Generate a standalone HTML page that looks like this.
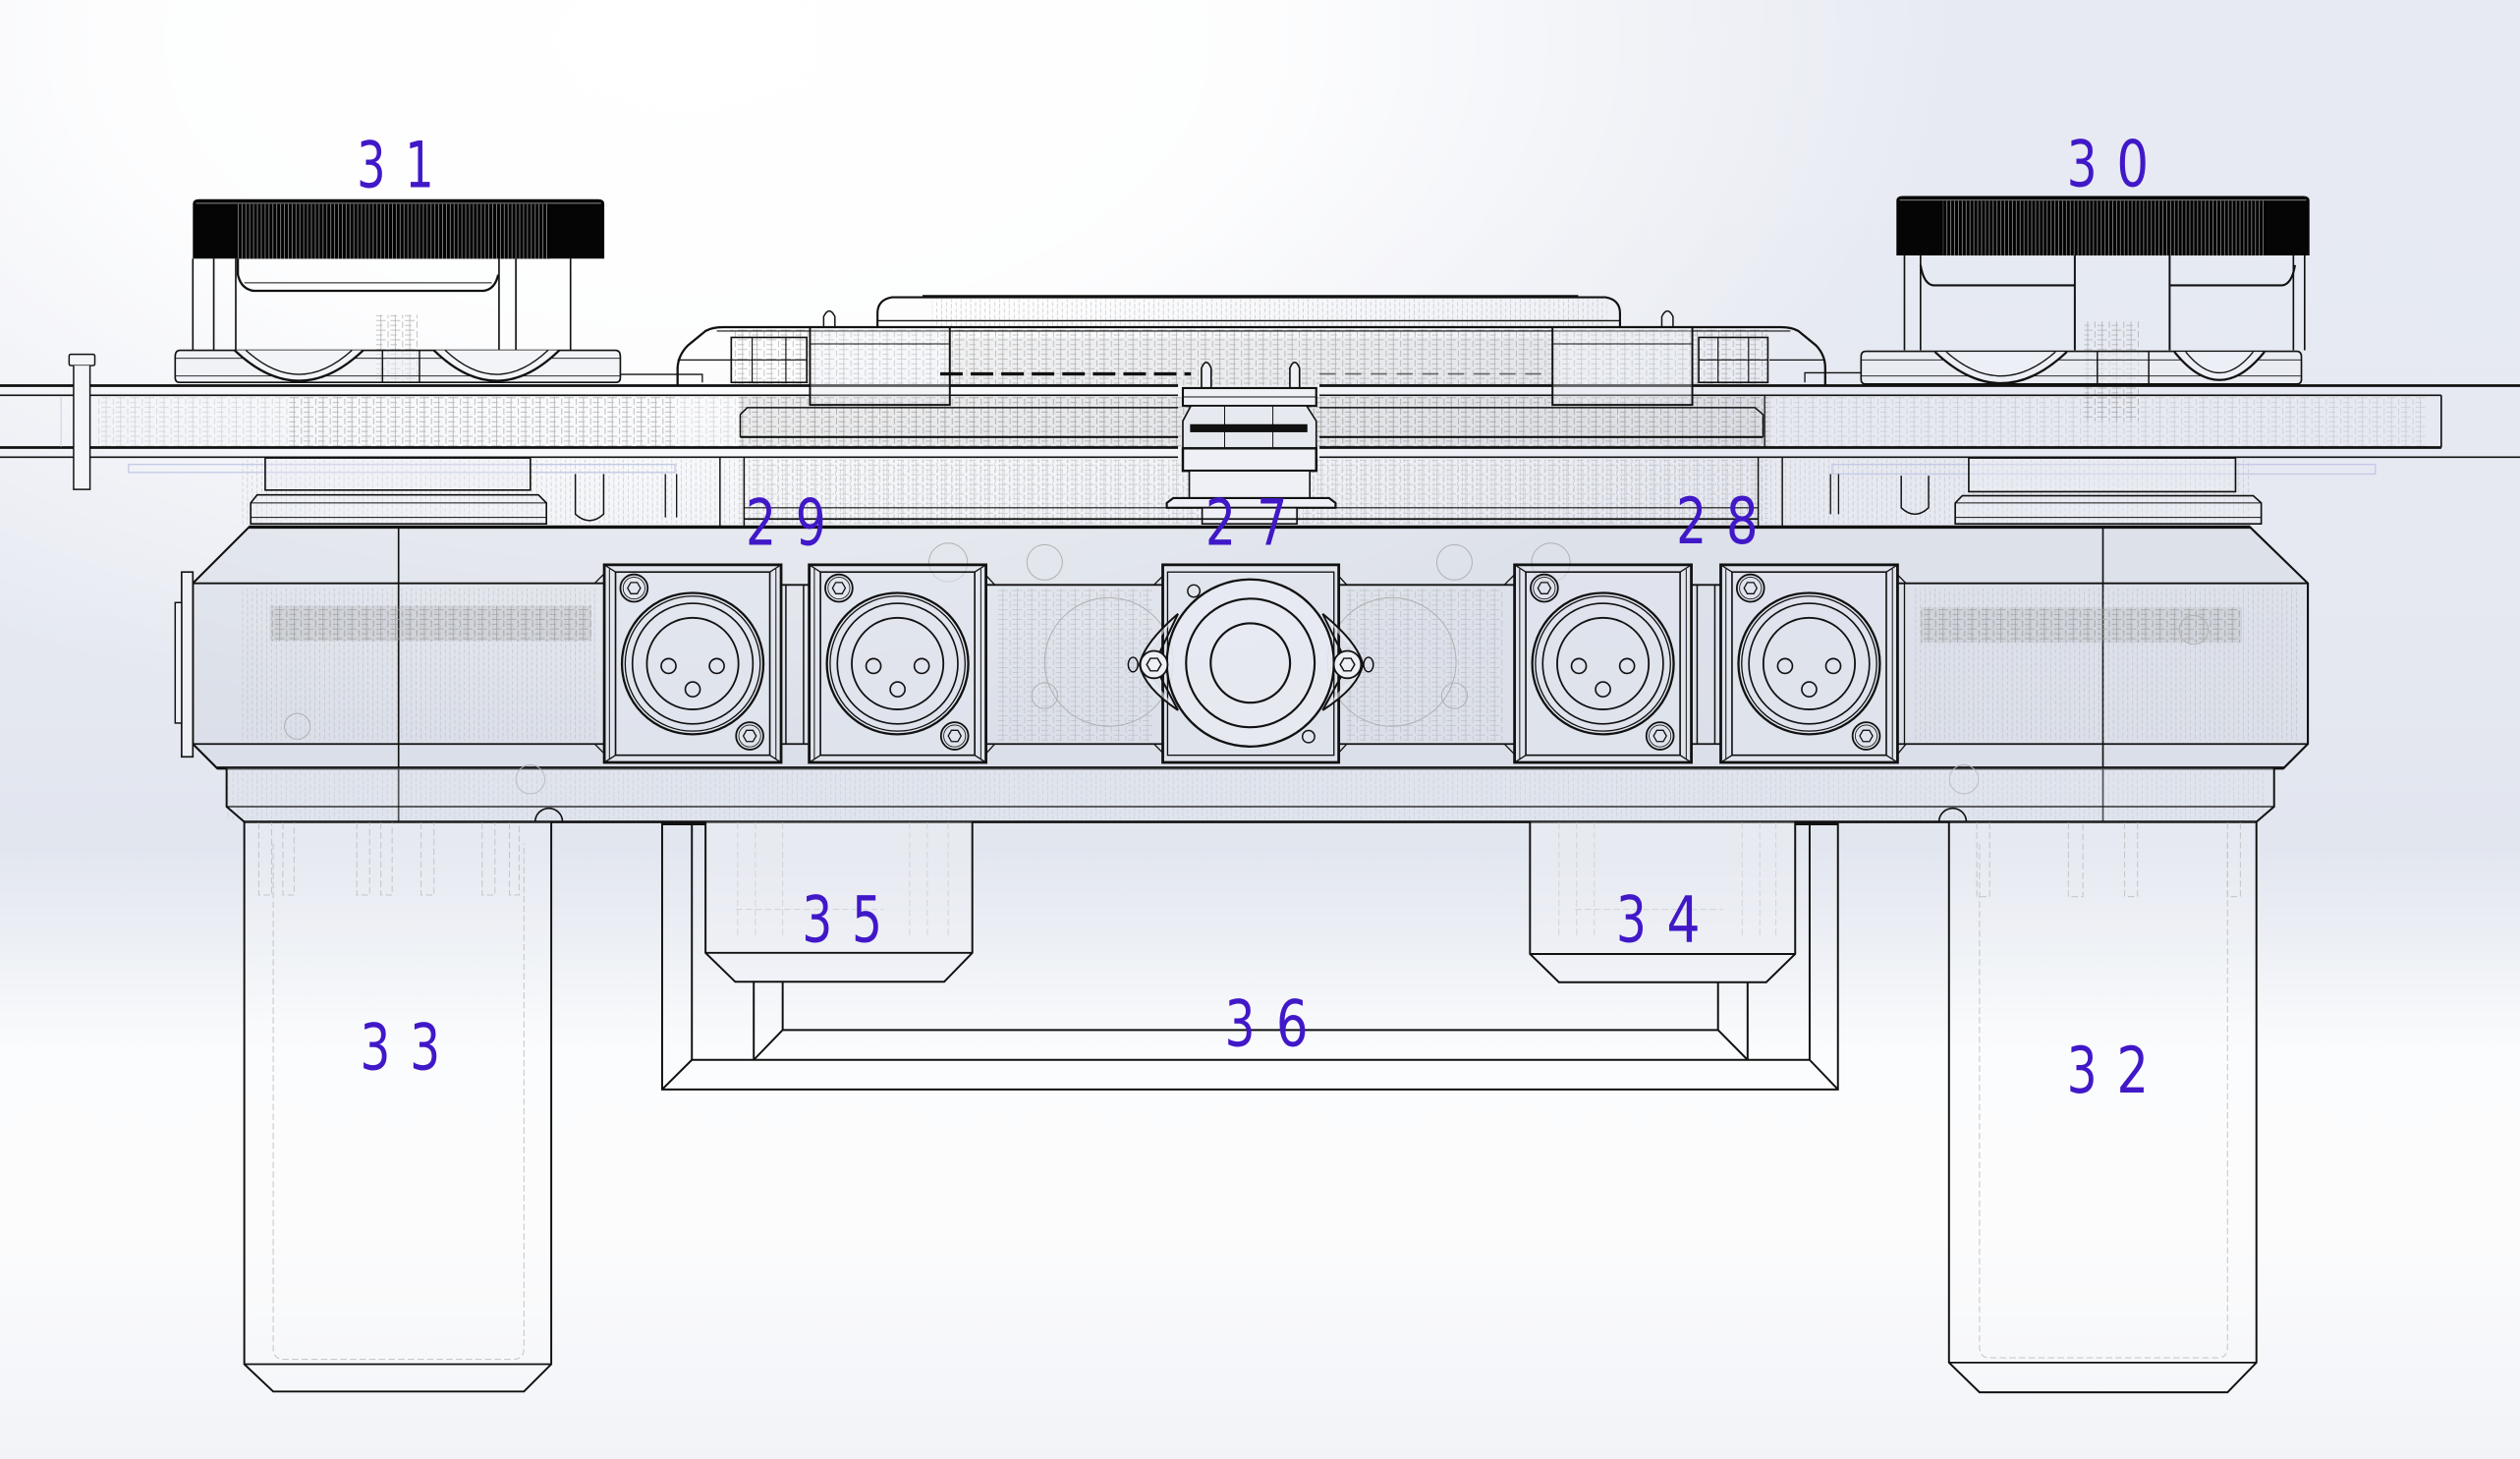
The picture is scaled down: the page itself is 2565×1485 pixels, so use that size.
<!DOCTYPE html>
<html><head><meta charset="utf-8">
<style>
html,body{margin:0;padding:0;}
body{width:2565px;height:1485px;overflow:hidden;position:relative;
background:
radial-gradient(ellipse 1300px 720px at 700px 40px, rgba(255,255,255,1) 0%, rgba(255,255,255,0.92) 45%, rgba(255,255,255,0) 100%),
linear-gradient(to bottom, #e7eaf2 0%, #e6e9f1 40%, #e2e6ef 58%, #edf0f5 65%, #fbfcfd 72%, #fcfcfd 84%, #f1f3f7 100%);}
svg{position:absolute;left:0;top:0;}
.lb{font-family:"DejaVu Sans","Liberation Sans",sans-serif;font-size:40px;fill:#4018c8;}
</style></head><body>
<svg width="2565" height="1485" viewBox="0 0 1568 908" preserveAspectRatio="none">
<defs>
<pattern id="knurl" width="2.4" height="40" patternUnits="userSpaceOnUse"><rect width="2.4" height="40" fill="#000"/><rect x="1.6" width="0.38" height="40" fill="#bdbdbd"/></pattern>
<pattern id="clut" width="9" height="6" patternUnits="userSpaceOnUse"><path d="M0,1.5H6M3,0V6M0,4.5H4M7.5,2V6" stroke="#a6a6a6" stroke-width="0.45" fill="none"/></pattern>
<pattern id="vd" width="6" height="4" patternUnits="userSpaceOnUse"><path d="M1,0V2.5M4,1V4" stroke="#b4b4b4" stroke-width="0.4"/></pattern>
<g id="xlr" fill="none" stroke="#111">
 <rect x="0" y="351.5" width="110" height="123" stroke-width="1.7" fill="rgba(225,229,238,0.55)"/>
 <rect x="7" y="356" width="96" height="114" stroke-width="1"/>
 <path d="M0,351.5 L7,356 M110,351.5 L103,356 M0,474.5 L7,470 M110,474.5 L103,470" stroke-width="0.8"/>
 <path d="M3.2,354 V472 M106.8,354 V472" stroke-width="0.6"/>
 <circle cx="55" cy="413" r="44" stroke-width="1.4"/>
 <circle cx="55" cy="413" r="42" stroke-width="0.8"/>
 <circle cx="55" cy="413" r="37.5" stroke-width="1"/>
 <circle cx="55" cy="413" r="28.5" stroke-width="1.1"/>
 <circle cx="40" cy="414.5" r="4.6" stroke-width="1"/>
 <circle cx="70" cy="414.5" r="4.6" stroke-width="1"/>
 <circle cx="55" cy="429" r="4.6" stroke-width="1"/>
 <circle cx="18.5" cy="366" r="8.5" stroke-width="1.1"/>
 <circle cx="18.5" cy="366" r="6.8" stroke-width="0.5"/>
 <polygon points="22.5,366 20.5,369.5 16.5,369.5 14.5,366 16.5,362.5 20.5,362.5" stroke-width="0.8"/>
 <circle cx="90.5" cy="458" r="8.5" stroke-width="1.1"/>
 <circle cx="90.5" cy="458" r="6.8" stroke-width="0.5"/>
 <polygon points="94.5,458 92.5,461.5 88.5,461.5 86.5,458 88.5,454.5 92.5,454.5" stroke-width="0.8"/>
</g>
</defs>

<!-- ===== gray clutter (hidden detail) ===== -->
<g>
 <rect x="60" y="247" width="1450" height="31" fill="url(#clut)" opacity="0.45"/>
 <rect x="180" y="247" width="240" height="31" fill="url(#clut)" opacity="0.7"/>
 <rect x="460" y="247" width="640" height="31" fill="url(#clut)" opacity="0.9"/>
 <rect x="460" y="247" width="640" height="31" fill="#9a9a9a" opacity="0.16"/>
 <rect x="455" y="205" width="645" height="35" fill="url(#clut)" opacity="0.85"/>
 <rect x="590" y="210" width="380" height="30" fill="#9a9a9a" opacity="0.12"/>
 <rect x="580" y="186" width="420" height="18" fill="url(#vd)" opacity="0.8"/>
 <rect x="150" y="286" width="1250" height="40" fill="url(#vd)" opacity="0.7"/>
 <rect x="460" y="286" width="640" height="40" fill="url(#clut)" opacity="0.55"/>
 <rect x="140" y="480" width="1270" height="30" fill="url(#vd)" opacity="0.6"/>
 <rect x="233" y="196" width="28" height="42" fill="url(#clut)" opacity="0.9"/>
 <rect x="1297" y="200" width="34" height="62" fill="url(#clut)" opacity="0.9"/>
</g>

<!-- ===== plate ===== -->
<g fill="none" stroke="#111">
 <path d="M0,240 H733 M821,240 H1568" stroke-width="1.7"/>
 <path d="M0,246 H733 M821,246 H1519" stroke-width="1"/>
 <path d="M0,278.5 H733 M821,278.5 H1519" stroke-width="1.7"/>
 <path d="M0,284.5 H733 M821,284.5 H1568" stroke-width="1"/>
 <path d="M1519,246 V278.5" stroke-width="1"/>
 <path d="M1098,246 V278.5" stroke-width="0.8"/>
 <rect x="80" y="289" width="340" height="5" stroke="#c3c9e6" stroke-width="0.8"/>
 <rect x="1140" y="289" width="338" height="6" stroke="#c3c9e6" stroke-width="0.8"/>
 <path d="M38,247 V278" stroke="#c8cde0" stroke-width="0.6"/>
</g>

<!-- pin left -->
<g fill="#f4f5f8" stroke="#111" stroke-width="0.9">
 <rect x="43" y="220.5" width="16" height="7" rx="1"/>
 <path d="M45.8,227.5 V304.6 H56 V227.5" />
</g>

<!-- ===== left knob 31 ===== -->
<g fill="none" stroke="#111" stroke-width="1">
 <path d="M120,161 V218 M133,161 V218 M146.7,161 V218" />
 <path d="M310.5,161 V218 M321,161 V218 M355,161 V218" />
 <path d="M148,161 V171 Q150,180 158,181 H301 Q308,180 310,171" stroke-width="1.4"/>
 <path d="M152,176 H306" stroke-width="0.6"/>
 <path d="M112,218 H383 Q386,218 386,222 V235 Q386,238 383,238 H112 Q109,238 109,235 V222 Q109,218 112,218 Z" fill="rgba(235,238,244,0.6)"/>
 <path d="M109,223 H386 M109,234 H386" stroke-width="0.5"/>
 <path d="M146,218 Q186,256 226,218" stroke-width="1.4" fill="#f2f4f8"/>
 <path d="M153,218 Q186,248 219,218" stroke-width="0.8"/>
 <path d="M270,218 Q309,256 348,218" stroke-width="1.4" fill="#f2f4f8"/>
 <path d="M277,218 Q309,248 341,218" stroke-width="0.8"/>
 <path d="M238,218 V238 M261,218 V238" stroke-width="0.9"/>
 <path d="M386,233 H437 V238" stroke-width="0.8"/>
</g>
<path d="M120,127 Q120,124 124,124 L372,124 Q376,124 376,127 L376,161 L120,161 Z" fill="#050505"/>
<rect x="147" y="127" width="195" height="34" fill="url(#knurl)"/>
<path d="M122,126.5 H374" stroke="#888" stroke-width="0.6"/>

<!-- ===== right knob 30 ===== -->
<g fill="none" stroke="#111" stroke-width="1">
 <path d="M1185,159 V218 M1195,159 V218" />
 <path d="M1291,159 V218 M1350,159 V218" stroke-width="1.2"/>
 <path d="M1427,159 V218 M1434,159 V218" />
 <path d="M1195,165 Q1197,177 1203,177.6 H1291 M1350,177.6 H1420 Q1426,177 1428,165" stroke-width="1.3"/>
 <path d="M1161,218.6 H1429 Q1432,218.6 1432,222 V236 Q1432,239 1429,239 H1161 Q1158,239 1158,236 V222 Q1158,218.6 1161,218.6 Z" fill="rgba(235,238,244,0.6)"/>
 <path d="M1158,224 H1432 M1158,234 H1432" stroke-width="0.5"/>
 <path d="M1204,219 Q1245,258 1286,219" stroke-width="1.4" fill="#eceff5"/>
 <path d="M1211,219 Q1245,249 1279,219" stroke-width="0.8"/>
 <path d="M1353,219 Q1381,254 1409,219" stroke-width="1.4" fill="#eceff5"/>
 <path d="M1360,219 Q1381,245 1402,219" stroke-width="0.8"/>
 <path d="M1305,219 V239 M1337,219 V239" stroke-width="0.9"/>
 <path d="M1123,238 V232 H1158" stroke-width="0.8"/>
</g>
<path d="M1180,125 Q1180,122 1184,122 L1433,122 Q1437,122 1437,125 L1437,159 L1180,159 Z" fill="#050505"/>
<rect x="1209" y="125" width="201" height="34" fill="url(#knurl)"/>
<path d="M1182,124.5 H1435" stroke="#888" stroke-width="0.6"/>

<!-- ===== central housing ===== -->
<g fill="none" stroke="#111" stroke-width="1.2">
 <path d="M421.6,240 V229 Q422,221 428,215 L439,206 Q443,203.6 450,203.6 H1108 Q1115,203.6 1119,206 L1130,215 Q1135.7,221 1135.7,229 V240" stroke-width="1.4"/>
 <path d="M421.6,224 H455 M1101,224 H1135.7" stroke-width="0.8"/>
 <path d="M446,206 H1114" stroke-width="0.7"/>
 <path d="M546,203.6 V195 Q546,186.5 555,185 H999 Q1008,186.5 1008,195 V203.6" stroke-width="1.3"/>
 <path d="M574,184.5 H982" stroke-width="1.9"/>
 <path d="M546,199.6 H1008" stroke-width="0.9"/>
 <rect x="504" y="203.6" width="87" height="48.4" fill="rgba(235,238,244,0.35)"/>
 <rect x="966" y="203.6" width="87" height="48.4" fill="rgba(235,238,244,0.35)"/>
 <path d="M504,214 H591 M966,214 H1053" stroke-width="0.6"/>
 <path d="M512.5,203.6 V197 Q516,190 519.5,197 V203.6 M1034,203.6 V197 Q1037.5,190 1041,197 V203.6" stroke-width="0.9"/>
 <rect x="455" y="210" width="47" height="28" stroke-width="1"/>
 <path d="M468,210 V238 M489,210 V238 M455,224 H502" stroke-width="0.7"/>
 <rect x="1057" y="210" width="43" height="28" stroke-width="1"/>
 <path d="M1069,210 V238 M1088,210 V238 M1057,224 H1100" stroke-width="0.7"/>
 <path d="M585,232.7 H741" stroke-width="2" stroke-dasharray="14,5"/>
 <path d="M821,232.7 H966" stroke-width="1" stroke="#666" stroke-dasharray="10,6"/>
 <path d="M460.6,272 V258 L465,253.7 H733 M821,253.7 H1092 L1097,258 V272" stroke-width="0.9"/>
 <path d="M460.6,272 H733 M821,272 H1097" stroke-width="1.3"/>
</g>

<!-- center connector stack -->
<g fill="#eef0f5" stroke="#111" stroke-width="1">
 <path d="M747.6,241.5 V229 Q750.6,222 753.6,229 V241.5 Z"/>
 <path d="M802.6,241.5 V229 Q805.6,222 808.6,229 V241.5 Z"/>
 <rect x="736" y="241.5" width="83" height="11.1" stroke-width="1.3"/>
 <path d="M736,247 H819" stroke-width="0.6" fill="none"/>
 <path d="M741,252.6 L736,262 V279 H819 V262 L813,252.6 Z" fill="#e6e9ef"/>
 <rect x="741" y="264.5" width="72" height="4" fill="#111"/>
 <rect x="736" y="279" width="83" height="14" stroke-width="1.5"/>
 <rect x="740" y="293" width="75" height="17"/>
 <path d="M726,316 V313 L730,310 H827 L831,313 V316 Z" stroke-width="1.3"/>
 <rect x="748" y="316" width="59" height="10"/>
 <path d="M762,253 V279 M792,253 V279" stroke-width="0.6" fill="none"/>
</g>

<!-- under-plate structures -->
<g fill="none" stroke="#111" stroke-width="1">
 <rect x="165" y="285" width="165" height="20" fill="rgba(235,238,244,0.4)"/>
 <path d="M160,308 H335 L340,313 V326 H156 V313 Z" fill="rgba(235,238,244,0.4)"/>
 <path d="M156,313 H340 M156,322 H340" stroke-width="0.6"/>
 <rect x="1225" y="285" width="166" height="21" fill="rgba(235,238,244,0.4)"/>
 <path d="M1221,308.5 H1402 L1407,313 V326 H1216.6 V313 Z" fill="rgba(235,238,244,0.4)"/>
 <path d="M1216.6,313 H1407 M1216.6,322 H1407" stroke-width="0.6"/>
 <path d="M448,284.5 V328 M463,284.5 V328 M1094,284.5 V328 M1109,284.5 V328" stroke-width="0.9"/>
 <path d="M358,295 V320 Q366.8,328 375.6,320 V295" stroke-width="0.9"/>
 <path d="M414,295 V322 M421,295 V322" stroke-width="0.8"/>
 <path d="M1183,296 V316 Q1191.5,324 1200,316 V296" stroke-width="0.9"/>
 <path d="M1139,295 V320 M1144,295 V320" stroke-width="0.8"/>
 <path d="M463,316 H1094" stroke-width="0.7"/>
 <path d="M463,323 H1094" stroke-width="1"/>
</g>

<!-- ===== main body ===== -->
<g fill="none" stroke="#111">
 <path d="M155,328 H1400 L1436,363 V463 L1421,478 H135 L120,463 V363 Z" fill="rgba(196,203,216,0.28)" stroke-width="1.3"/>
 <path d="M155,328 H1400" stroke-width="2"/>
 <path d="M135,478 H1421" stroke-width="2"/>
 <rect x="113" y="356" width="7" height="115" fill="#eef0f5" stroke-width="1"/>
 <rect x="109" y="375" width="4" height="75" fill="#eef0f5" stroke-width="0.9"/>
 <path d="M120,363 H376 M485.5,364 H504 M613.5,364 H724 M832.5,364 H942 M1052.5,364 H1071 M1181,363 H1436" stroke-width="1.1"/>
 <path d="M120,463 H376 M485.5,463 H504 M613.5,463 H724 M832.5,463 H942 M1052.5,463 H1071 M1181,463 H1436" stroke-width="1.1"/>
 <path d="M248,328 V512 M1308.5,328 V512" stroke-width="1"/>
 <path d="M489,364 V463 M500,364 V463 M1056,364 V463 M1067,364 V463" stroke-width="0.9"/>
 <path d="M1185,363 V463" stroke-width="0.8"/>
 <path d="M370,363 L376,357 M370,463 L376,469 M613.5,358 L619,364 M613.5,469 L619,463 M718,364 L724,358 M718,463 L724,469 M832.5,358 L838,364 M832.5,469 L838,463 M936,364 L942,358 M936,463 L942,469 M1181,358 L1186,363 M1181,469 L1186,463" stroke-width="0.8"/>
</g>
<!-- body clutter -->
<g>
 <rect x="150" y="366" width="222" height="95" fill="url(#vd)" opacity="0.7"/>
 <rect x="168" y="377" width="200" height="22" fill="url(#clut)" opacity="1"/>
 <rect x="168" y="377" width="200" height="22" fill="#8d8d8d" opacity="0.18"/>
 <rect x="1190" y="366" width="240" height="95" fill="url(#vd)" opacity="0.7"/>
 <rect x="1195" y="378" width="200" height="22" fill="url(#clut)" opacity="1"/>
 <rect x="1195" y="378" width="200" height="22" fill="#8d8d8d" opacity="0.15"/>
 <rect x="620" y="366" width="98" height="95" fill="url(#clut)" opacity="0.55"/>
 <rect x="838" y="366" width="98" height="95" fill="url(#clut)" opacity="0.55"/>
 <g fill="none" stroke="#b0b0b0" stroke-width="0.6">
  <circle cx="690" cy="412" r="40"/><circle cx="866" cy="412" r="40"/>
  <circle cx="650" cy="350" r="11"/><circle cx="905" cy="350" r="11"/>
  <circle cx="650" cy="433" r="8"/><circle cx="905" cy="433" r="8"/>
  <circle cx="590" cy="350" r="12"/><circle cx="965" cy="350" r="12"/>
  <circle cx="185" cy="452" r="8"/><circle cx="1365" cy="392" r="9"/>
  <circle cx="330" cy="485" r="9"/><circle cx="1222" cy="485" r="9"/>
 </g>
</g>

<!-- XLR connectors -->
<use href="#xlr" x="376"/>
<use href="#xlr" x="503.5"/>
<use href="#xlr" x="942.4"/>
<use href="#xlr" x="1070.7"/>

<!-- center connector 27 -->
<g fill="none" stroke="#111">
 <rect x="723.5" y="351.5" width="109.5" height="123" stroke-width="1.7" fill="rgba(225,229,238,0.55)"/>
 <rect x="726.5" y="356" width="103.5" height="114" stroke-width="0.8"/>
 <path d="M718,413.6 L733,382 M718,413.6 L733,442 M838.5,413.6 L823,382 M838.5,413.6 L823,442" stroke-width="1.2"/>
 <path d="M709,413.6 Q712,400 733,382 M709,413.6 Q712,428 733,442 M848,413.6 Q845,400 823,382 M848,413.6 Q845,428 823,442" stroke-width="1.2" fill="rgba(235,238,244,0.6)"/>
 <circle cx="778" cy="412.6" r="52" stroke-width="1.4" fill="rgba(236,239,245,0.55)"/>
 <circle cx="778" cy="412.6" r="40" stroke-width="1.3"/>
 <circle cx="778" cy="412.6" r="24.7" stroke-width="1.3"/>
 <circle cx="718" cy="413.6" r="8.5" stroke-width="1.1" fill="#eef0f5"/>
 <polygon points="722.5,413.6 720.2,417.5 715.8,417.5 713.5,413.6 715.8,409.7 720.2,409.7" stroke-width="0.9"/>
 <circle cx="838.4" cy="413.6" r="8.5" stroke-width="1.1" fill="#eef0f5"/>
 <polygon points="842.9,413.6 840.6,417.5 836.2,417.5 833.9,413.6 836.2,409.7 840.6,409.7" stroke-width="0.9"/>
 <ellipse cx="705" cy="413.6" rx="3" ry="4.5" stroke-width="0.9"/>
 <ellipse cx="851.5" cy="413.6" rx="3" ry="4.5" stroke-width="0.9"/>
 <circle cx="742.8" cy="367.8" r="3.8" stroke-width="0.9"/>
 <circle cx="814.2" cy="458.4" r="3.8" stroke-width="0.9"/>
</g>

<!-- ===== lower bar ===== -->
<g fill="none" stroke="#111">
 <path d="M141,478 V502 L152,511.5 H1404 L1415,502 V478" stroke-width="1.2" fill="rgba(215,221,232,0.3)"/>
 <path d="M141,502 H1415" stroke-width="0.8"/>
 <path d="M152,511.5 H1404" stroke-width="1.6"/>
 <path d="M333,511.5 A8.5,8.5 0 0 1 350,511.5" stroke-width="1"/>
 <path d="M1206.5,511.5 A8.5,8.5 0 0 1 1223.5,511.5" stroke-width="1"/>
</g>

<!-- ===== legs ===== -->
<g fill="none" stroke="#111" stroke-width="1.2">
 <path d="M152,511.5 V849 L170,866 H326 L343,849 V511.5" fill="rgba(255,255,255,0.15)"/>
 <path d="M152,849 H343" stroke-width="1.1"/>
 <path d="M1212.7,511.5 V848 L1231.7,866.5 H1386 L1404,848 V511.5" fill="rgba(255,255,255,0.15)"/>
 <path d="M1212.7,848 H1404" stroke-width="1.1"/>
</g>
<g fill="none" stroke="#c4c4c4" stroke-width="0.6" stroke-dasharray="4,2">
 <path d="M170,525 V839 Q170,846 177,846 H319 Q326,846 326,839 V525"/>
 <path d="M1231.7,525 V838 Q1231.7,845 1238,845 H1380 Q1386,845 1386,838 V525"/>
 <path d="M161,512 V557 H169 V512 M176,512 V557 H183 V512 M222,512 V557 H230 V512 M237,512 V557 H244 V512 M262,512 V557 H270 V512 M300,512 V557 H308 V512 M317,512 V557 H323 V512"/>
 <path d="M1230,512 V558 H1238 V512 M1287,512 V558 H1296 V512 M1322,512 V558 H1330 V512 M1386,512 V558 H1394 V512"/>
 <path d="M459,512 V584 M470,512 V584 M487,512 V584 M566,512 V584 M577,512 V584 M590,512 V584"/>
 <path d="M970,512 V584 M981,512 V584 M992,512 V584 M1084,512 V584 M1095,512 V584 M1105,512 V584"/>
 <path d="M458,566 H550 M980,566 H1072"/>
</g>

<!-- inner legs 35 / 34 -->
<g fill="none" stroke="#111" stroke-width="1.2">
 <path d="M439,511.5 V593 L457.5,611 H587.5 L605,593 V511.5" fill="rgba(240,242,247,0.35)"/>
 <path d="M439,593 H605"/>
 <path d="M952,511.5 V593.7 L970,611.3 H1099 L1117,593.7 V511.5" fill="rgba(240,242,247,0.35)"/>
 <path d="M952,593.7 H1117"/>
</g>

<!-- ===== frame 36 ===== -->
<g fill="none" stroke="#111" stroke-width="1.2">
 <path d="M412,511.5 V678 H1143.6 V511.5"/>
 <path d="M430.5,511.5 V659.6 H1126 V511.5"/>
 <path d="M412,678 L430.5,659.6 M1143.6,678 L1126,659.6"/>
 <path d="M469,611 V659.6 M487,611 V641 H1069 V611.3 M1087.4,611.3 V659.6"/>
 <path d="M469,659.6 L487,641 M1087.4,659.6 L1069,641"/>
 <path d="M412,512.5 H439 M1117,512.5 H1143.6" stroke-width="2.2"/>
</g>

<!-- ===== labels ===== -->
<g class="lb">
 <text x="222" y="116.5" class="lb" textLength="18" lengthAdjust="spacingAndGlyphs">3</text><text x="252" y="116.5" class="lb" textLength="18" lengthAdjust="spacingAndGlyphs">1</text>
 <text x="1286" y="116" class="lb" textLength="19" lengthAdjust="spacingAndGlyphs">3</text><text x="1317" y="116" class="lb" textLength="20" lengthAdjust="spacingAndGlyphs">0</text>
 <text x="464" y="339" class="lb" textLength="19" lengthAdjust="spacingAndGlyphs">2</text><text x="495" y="339" class="lb" textLength="19" lengthAdjust="spacingAndGlyphs">9</text>
 <text x="750" y="339" class="lb" textLength="19" lengthAdjust="spacingAndGlyphs">2</text><text x="782" y="339" class="lb" textLength="19" lengthAdjust="spacingAndGlyphs">7</text>
 <text x="1043" y="338" class="lb" textLength="19" lengthAdjust="spacingAndGlyphs">2</text><text x="1074" y="338" class="lb" textLength="20" lengthAdjust="spacingAndGlyphs">8</text>
 <text x="499" y="586" class="lb" textLength="19" lengthAdjust="spacingAndGlyphs">3</text><text x="530" y="586" class="lb" textLength="19" lengthAdjust="spacingAndGlyphs">5</text>
 <text x="1005.5" y="586" class="lb" textLength="19" lengthAdjust="spacingAndGlyphs">3</text><text x="1037" y="586" class="lb" textLength="21" lengthAdjust="spacingAndGlyphs">4</text>
 <text x="762" y="651" class="lb" textLength="19" lengthAdjust="spacingAndGlyphs">3</text><text x="794" y="651" class="lb" textLength="20" lengthAdjust="spacingAndGlyphs">6</text>
 <text x="224" y="665.5" class="lb" textLength="19" lengthAdjust="spacingAndGlyphs">3</text><text x="255" y="665.5" class="lb" textLength="19" lengthAdjust="spacingAndGlyphs">3</text>
 <text x="1286" y="680" class="lb" textLength="19" lengthAdjust="spacingAndGlyphs">3</text><text x="1317" y="680" class="lb" textLength="20" lengthAdjust="spacingAndGlyphs">2</text>
</g>
</svg>
</body></html>
